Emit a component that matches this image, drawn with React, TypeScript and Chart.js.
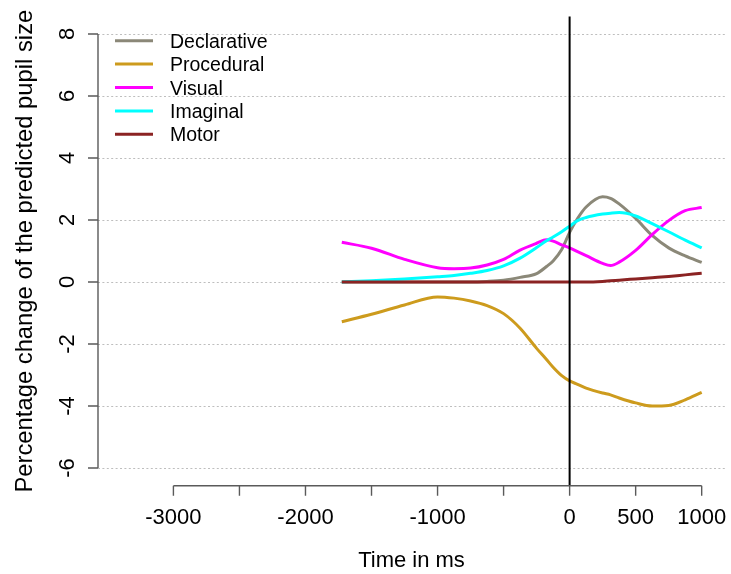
import { useEffect, useRef } from "react";
import { Chart, registerables } from "chart.js";

Chart.register(...registerables);

// Sampling times (ms, relative to the event at 0)
const timeMs = [-1725, -1500, -1250, -1000, -875, -750, -625, -500, -375, -250, -175, -125, -60, 0, 60, 125, 250, 310, 375, 500, 625, 750, 875, 1000];

// Percentage change of the predicted pupil size per module
const declarative = [0, 0, 0, 0, 0, 0, 0.02, 0.06, 0.15, 0.27, 0.5, 0.68, 1.05, 1.6, 2.05, 2.42, 2.75, 2.7, 2.52, 2.05, 1.5, 1.1, 0.84, 0.63];
const procedural = [-1.28, -1.04, -0.74, -0.48, -0.52, -0.61, -0.76, -1.02, -1.49, -2.14, -2.5, -2.75, -3.02, -3.19, -3.3, -3.42, -3.58, -3.64, -3.74, -3.9, -4.0, -3.98, -3.8, -3.56];
const visual = [1.28, 1.09, 0.73, 0.46, 0.43, 0.45, 0.55, 0.73, 1.03, 1.25, 1.36, 1.32, 1.2, 1.1, 0.98, 0.85, 0.6, 0.53, 0.64, 1.02, 1.53, 1.98, 2.3, 2.4];
const imaginal = [0.0, 0.04, 0.1, 0.17, 0.21, 0.28, 0.37, 0.52, 0.77, 1.11, 1.33, 1.45, 1.62, 1.8, 1.98, 2.08, 2.19, 2.22, 2.24, 2.13, 1.88, 1.62, 1.35, 1.1];
const motor = [0, 0, 0, 0, 0, 0, 0, 0, 0, 0, 0, 0, 0, 0, 0, 0, 0.02, 0.04, 0.06, 0.1, 0.14, 0.18, 0.23, 0.28];

const seriesNames = ["Declarative", "Procedural", "Visual", "Imaginal", "Motor"];
const seriesValues = [declarative, procedural, visual, imaginal, motor];
const seriesColors = ["#8B8878", "#CD9B1D", "#FF00FF", "#00FFFF", "#8B2323"];

// Axis ticks
const yTicks = [-6, -4, -2, 0, 2, 4, 6, 8];
const xTicks = [-3000, -2500, -2000, -1500, -1000, -500, 0, 500, 1000];
const xTickLabels = [-3000, -2000, -1000, 0, 500, 1000];

const xTitle = "Time in ms";
const yTitle = "Percentage change of the predicted pupil size";

const FONT = '"Liberation Sans", Arial, sans-serif';
const AXIS_COLOR = "#5a5a5a";

const basePlot = {
  id: "basePlot",
  beforeDatasetsDraw(chart: any) {
    const { ctx, chartArea: a, scales } = chart;
    const y = scales.y;
    ctx.save();
    ctx.strokeStyle = "#BEBEBE";
    ctx.lineWidth = 1;
    ctx.setLineDash([2, 2.4]);
    for (const v of yTicks) {
      const py = Math.round(y.getPixelForValue(v)) + 0.5;
      ctx.beginPath();
      ctx.moveTo(a.left, py);
      ctx.lineTo(a.right, py);
      ctx.stroke();
    }
    ctx.restore();
  },
  afterDatasetsDraw(chart: any) {
    const { ctx, chartArea: a, scales } = chart;
    const x = scales.x;
    const y = scales.y;
    ctx.save();

    // event marker at time 0
    const x0 = x.getPixelForValue(0);
    ctx.strokeStyle = "#000";
    ctx.lineWidth = 2;
    ctx.beginPath();
    ctx.moveTo(x0, a.top);
    ctx.lineTo(x0, a.bottom);
    ctx.stroke();

    // y axis
    ctx.strokeStyle = AXIS_COLOR;
    ctx.lineWidth = 1.4;
    const ax = a.left;
    ctx.beginPath();
    ctx.moveTo(ax, y.getPixelForValue(yTicks[0]));
    ctx.lineTo(ax, y.getPixelForValue(yTicks[yTicks.length - 1]));
    for (const v of yTicks) {
      const py = y.getPixelForValue(v);
      ctx.moveTo(ax, py);
      ctx.lineTo(ax - 10, py);
    }
    ctx.stroke();

    ctx.fillStyle = "#000";
    ctx.font = `22px ${FONT}`;
    ctx.textAlign = "center";
    ctx.textBaseline = "alphabetic";
    for (const v of yTicks) {
      ctx.save();
      ctx.translate(74, y.getPixelForValue(v));
      ctx.rotate(-Math.PI / 2);
      ctx.fillText(String(v), 0, 0);
      ctx.restore();
    }

    // x axis
    const ay = a.bottom;
    ctx.beginPath();
    ctx.moveTo(x.getPixelForValue(xTicks[0]), ay);
    ctx.lineTo(x.getPixelForValue(xTicks[xTicks.length - 1]), ay);
    for (const v of xTicks) {
      const px = x.getPixelForValue(v);
      ctx.moveTo(px, ay);
      ctx.lineTo(px, ay + 10);
    }
    ctx.stroke();
    for (const v of xTickLabels) {
      ctx.fillText(String(v), x.getPixelForValue(v), 524);
    }

    // axis titles
    ctx.font = `22px ${FONT}`;
    ctx.fillText(xTitle, (a.left + a.right) / 2, 567);
    ctx.save();
    ctx.font = `23.8px ${FONT}`;
    ctx.translate(32, (a.top + a.bottom) / 2);
    ctx.rotate(-Math.PI / 2);
    ctx.fillText(yTitle, 0, 0);
    ctx.restore();

    // legend
    ctx.font = `19.5px ${FONT}`;
    ctx.textAlign = "left";
    ctx.setLineDash([]);
    ctx.lineWidth = 3;
    chart.data.datasets.forEach((ds: any, i: number) => {
      const ly = 40.7 + i * 23.4;
      ctx.strokeStyle = ds.borderColor;
      ctx.beginPath();
      ctx.moveTo(115, ly);
      ctx.lineTo(153, ly);
      ctx.stroke();
      ctx.fillStyle = "#000";
      ctx.fillText(ds.label, 170, ly + 7);
    });

    ctx.restore();
  },
};

export default function App() {
  const canvasRef = useRef<HTMLCanvasElement | null>(null);

  useEffect(() => {
    const canvas = canvasRef.current;
    if (!canvas) return;
    const datasets = seriesNames.map((name, i) => ({
      label: name,
      data: timeMs.map((t, k) => ({ x: t, y: seriesValues[i][k] })),
      borderColor: seriesColors[i],
      backgroundColor: seriesColors[i],
      borderWidth: 3,
      pointRadius: 0,
      cubicInterpolationMode: "monotone" as const,
      fill: false,
      order: seriesNames.length - i,
    }));
    const chart = new Chart(canvas, {
      type: "line",
      data: { datasets },
      options: {
        responsive: false,
        animation: false,
        devicePixelRatio: 1,
        layout: { padding: { left: 98, right: 6, top: 16.6, bottom: 88.3 } },
        plugins: { legend: { display: false }, tooltip: { enabled: false } },
        scales: {
          x: { type: "linear", min: -3571, max: 1176.5, display: false },
          y: { type: "linear", min: -6.57, max: 8.56, display: false },
        },
      },
      plugins: [basePlot],
    });
    return () => chart.destroy();
  }, []);

  return (
    <div style={{ position: "absolute", left: 0, top: 0, width: 731, height: 574, background: "#fff" }}>
      <canvas ref={canvasRef} width={731} height={574} style={{ display: "block" }} />
    </div>
  );
}
